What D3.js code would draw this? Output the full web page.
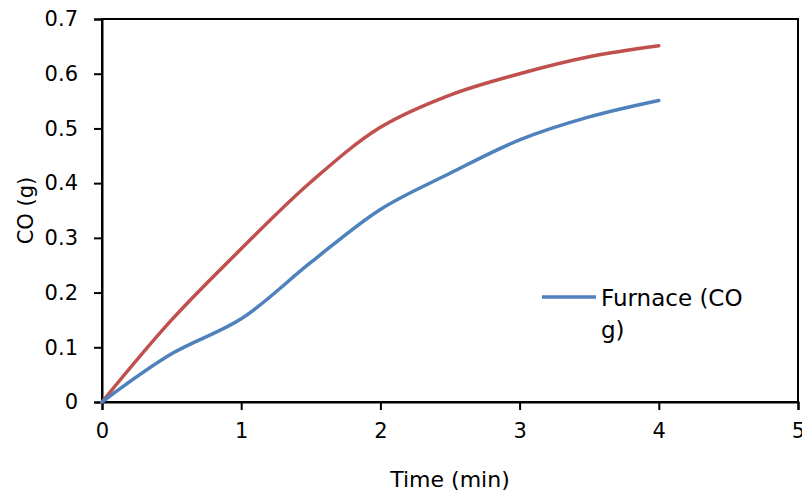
<!DOCTYPE html>
<html lang="en">
<head>
    <meta charset="UTF-8">
    <title>CO vs Time</title>
    <script src="https://d3js.org/d3.v7.min.js"></script>
    <style>
        body { margin: 0; background: #fff; }
        text { font-family: "DejaVu Sans", Lato, sans-serif; fill: #000; }
    </style>
</head>
<body>
<script>
    // data
    var times = [0, 0.5, 1, 1.5, 2, 2.5, 3, 3.5, 4];
    var furnaceCO = [0, 0.088, 0.152, 0.255, 0.352, 0.418, 0.479, 0.521, 0.551];
    var otherCO = [0, 0.15, 0.28, 0.402, 0.502, 0.561, 0.60, 0.631, 0.651];
    var xTicks = [0, 1, 2, 3, 4, 5];
    var yTicks = [0, 0.1, 0.2, 0.3, 0.4, 0.5, 0.6, 0.7];
    var legendLines = ["Furnace (CO", "g)"];

    var W = 802, H = 497;
    var margin = { top: 19, right: 4, bottom: 95, left: 102 },
        width = W - margin.left - margin.right,
        height = H - margin.top - margin.bottom;

    var svg = d3.select("body").append("svg")
        .attr("width", W)
        .attr("height", H);

    var g = svg.append("g")
        .attr("transform", "translate(" + margin.left + "," + margin.top + ")");

    var x = d3.scaleLinear().domain([0, 5]).range([0, width]);
    var y = d3.scaleLinear().domain([0, 0.7]).range([height, 0]);

    // frame
    g.append("rect")
        .attr("width", width)
        .attr("height", height)
        .attr("fill", "none")
        .attr("stroke", "#000")
        .attr("stroke-width", 2);

    // axes
    var xAxis = g.append("g")
        .attr("transform", "translate(0," + height + ")")
        .call(d3.axisBottom(x).tickValues(xTicks).tickSize(8).tickPadding(13).tickFormat(d3.format("d")));
    var yAxis = g.append("g")
        .call(d3.axisLeft(y).tickValues(yTicks).tickSize(8).tickPadding(16).tickFormat(d => d === 0 ? "0" : d3.format(".1f")(d)));

    [xAxis, yAxis].forEach(function (a) {
        a.select(".domain").attr("stroke", "#000").attr("stroke-width", 2);
        a.selectAll(".tick line").attr("stroke", "#000").attr("stroke-width", 2);
        a.selectAll(".tick text").style("font-size", "21px").attr("fill", "#000");
    });

    // lines
    var line = d3.line()
        .x((d, i) => x(times[i]))
        .y(d => y(d))
        .curve(d3.curveCatmullRom.alpha(0.5));

    g.append("path")
        .datum(otherCO)
        .attr("fill", "none")
        .attr("stroke", "#C0504D")
        .attr("stroke-width", 3.5)
        .attr("stroke-linecap", "round")
        .attr("d", line);

    g.append("path")
        .datum(furnaceCO)
        .attr("fill", "none")
        .attr("stroke", "#4F81BD")
        .attr("stroke-width", 3.5)
        .attr("stroke-linecap", "round")
        .attr("d", line);

    // axis titles
    svg.append("text")
        .attr("x", margin.left + width / 2)
        .attr("y", 487)
        .attr("text-anchor", "middle")
        .style("font-size", "22px")
        .text("Time (min)");

    svg.append("text")
        .attr("transform", "translate(33," + (margin.top + height / 2) + ") rotate(-90)")
        .attr("text-anchor", "middle")
        .style("font-size", "21px")
        .text("CO (g)");

    // legend
    var legend = svg.append("g").attr("transform", "translate(542,297)");
    legend.append("line")
        .attr("x1", 0).attr("x2", 54)
        .attr("stroke", "#4F81BD")
        .attr("stroke-width", 3.5);
    legend.append("text")
        .attr("x", 59)
        .attr("y", 9)
        .style("font-size", "23px")
        .selectAll("tspan")
        .data(legendLines)
        .enter().append("tspan")
        .attr("x", 59)
        .attr("dy", (d, i) => i === 0 ? 0 : 32)
        .text(d => d);
</script>
</body>
</html>
